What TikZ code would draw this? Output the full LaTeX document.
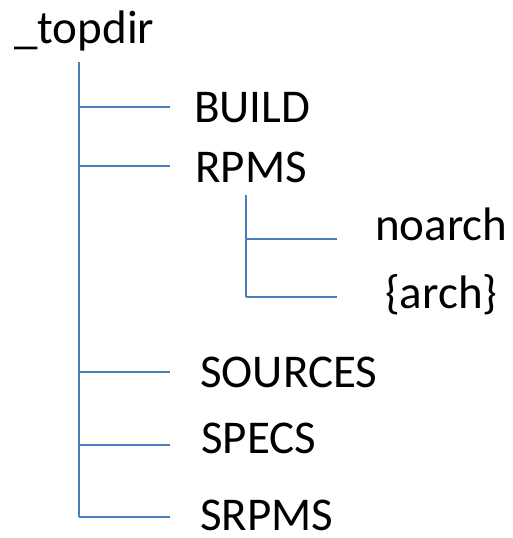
\documentclass[tikz,border=0pt]{standalone}
\usepackage{fontspec}
\setmainfont{Carlito}
\definecolor{treeblue}{HTML}{4A7EBB}
\begin{document}
\begin{tikzpicture}[x=1pt,y=-1pt,
  lbl/.style={anchor=base west,inner sep=0pt,font=\fontsize{47}{52}\selectfont},
  branch/.style={draw=treeblue,line width=2.6pt}]
\useasboundingbox (0,0) rectangle (512,538);
% labels
\node[lbl] (topdir) at (14,43) {\_topdir};
\node[lbl] (build) at (194,122) {BUILD};
\node[lbl] (rpms) at (195,182) {RPMS};
\node[lbl] (noarch) at (375,240) {noarch};
\node[lbl] (arch) at (385,308) {\{arch\}};
\node[lbl] (sources) at (200,387) {SOURCES};
\node[lbl] (specs) at (201,453) {SPECS};
\node[lbl] (srpms) at (200,530) {SRPMS};
% main trunk
\coordinate (t0) at (79,62);
\coordinate (t1) at (79,107);
\coordinate (t2) at (79,166);
\coordinate (t3) at (79,372);
\coordinate (t4) at (79,445);
\coordinate (t5) at (79,517);
\coordinate (e1) at (170,107);
\coordinate (e2) at (170,166);
\coordinate (e3) at (170,372);
\coordinate (e4) at (170,445);
\coordinate (e5) at (170,517);
% sub trunk
\coordinate (s0) at (246,195);
\coordinate (s1) at (246,239);
\coordinate (s2) at (246,297);
\coordinate (f1) at (337,239);
\coordinate (f2) at (337,297);
\draw[branch] (t0) -- (t5);
\draw[branch] (t1) -- (e1);
\draw[branch] (t2) -- (e2);
\draw[branch] (t3) -- (e3);
\draw[branch] (t4) -- (e4);
\draw[branch] (t5) -- (e5);
\draw[branch] (s0) -- (s2);
\draw[branch] (s1) -- (f1);
\draw[branch] (s2) -- (f2);
\end{tikzpicture}
\end{document}
